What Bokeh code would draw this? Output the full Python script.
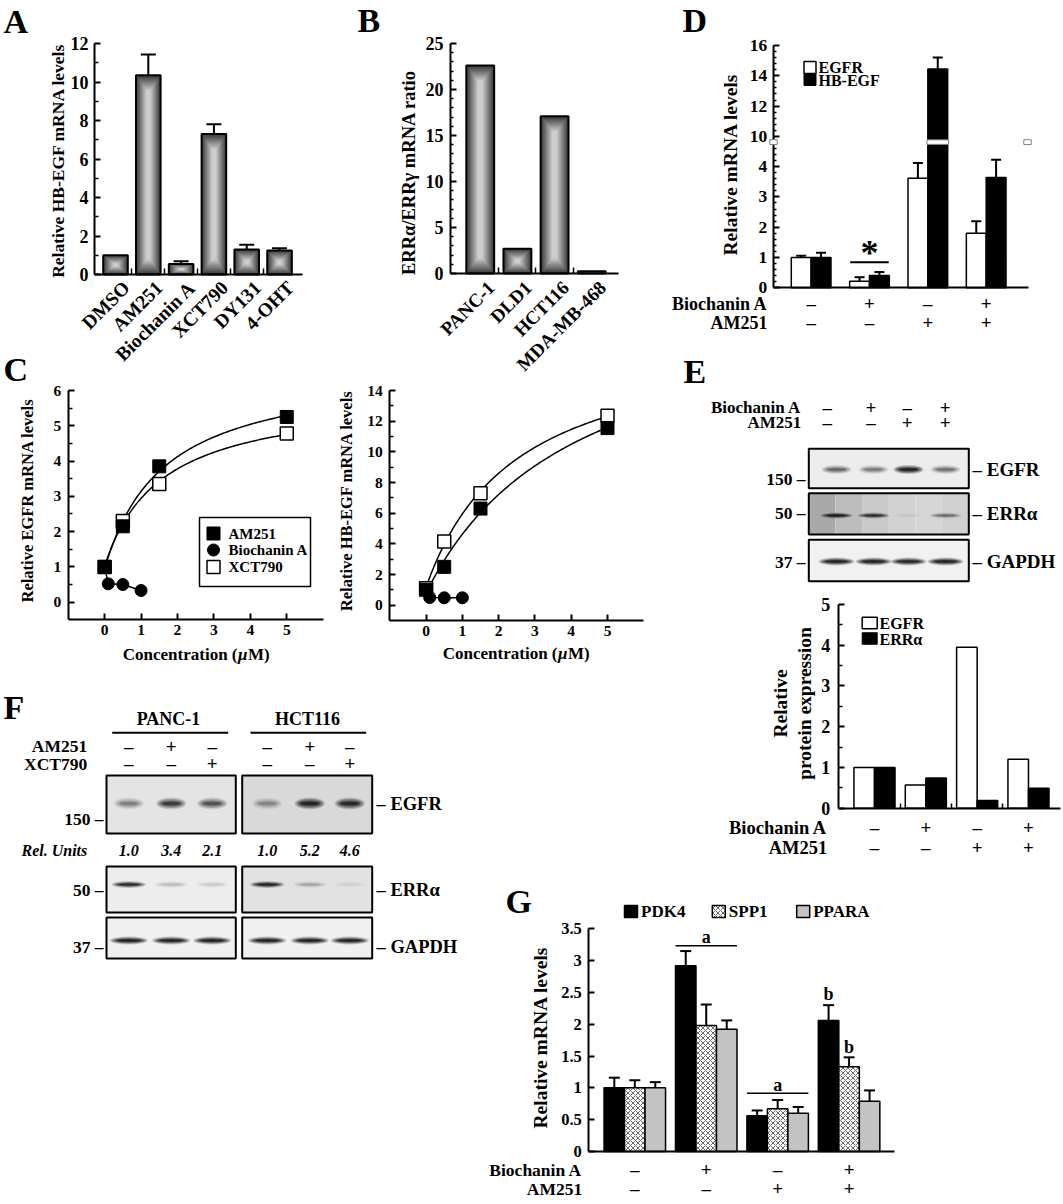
import numpy as np
from bokeh.plotting import figure
from bokeh.models import (Range1d, FixedTicker, Label, Whisker, TeeHead,
                          ColumnDataSource, BoxAnnotation, LinearAxis, Grid)
from bokeh.embed import file_html
from bokeh.resources import INLINE

FONT = "Liberation Serif"
PI = np.pi

# ================= data =================
a_cats = ["DMSO", "AM251", "Biochanin A", "XCT790", "DY131", "4-OHT"]
a_vals = [1.0, 10.35, 0.55, 7.3, 1.3, 1.25]
a_errs = [0.0, 1.08, 0.14, 0.5, 0.24, 0.12]

b_cats = ["PANC-1", "DLD1", "HCT116", "MDA-MB-468"]
b_vals = [22.6, 2.68, 17.1, 0.25]

c_conc = [0, 0.5, 1.5, 5]
c_bio_conc = [0, 0.1, 0.5, 1.0]
c1_am251 = [1.0, 2.15, 3.85, 5.25]
c1_xct790 = [1.0, 2.3, 3.35, 4.78]
c1_bio = [1.0, 0.52, 0.5, 0.33]
c2_am251 = [1.0, 2.5, 6.3, 11.55]
c2_xct790 = [1.1, 4.15, 7.3, 12.35]
c2_bio = [1.0, 0.5, 0.48, 0.48]
c_series = ["AM251", "Biochanin A", "XCT790"]

treat_bio = ["–", "+", "–", "+"]
treat_am = ["–", "–", "+", "+"]

d_series = ["EGFR", "HB-EGF"]
d_egfr = [1.0, 0.22, 3.62, 1.8]
d_egfr_err = [0.06, 0.13, 0.5, 0.4]
d_hbegf = [1.0, 0.41, 14.45, 3.64]
d_hbegf_err = [0.16, 0.11, 0.75, 0.59]

e_series = ["EGFR", "ERRα"]
e_egfr = [1.0, 0.57, 3.95, 1.2]
e_erra = [1.0, 0.74, 0.19, 0.49]
e_band_egfr = [0.5, 0.4, 1.0, 0.45]
e_band_erra = [0.95, 0.8, 0.04, 0.4]
e_band_gapdh = [1.0, 1.0, 0.95, 1.0]

f_lines = ["PANC-1", "HCT116"]
f_am = ["–", "+", "–"]
f_xct = ["–", "–", "+"]
f_rel = [[1.0, 3.4, 2.1], [1.0, 5.2, 4.6]]
f_band_egfr = [[0.35, 0.75, 0.6], [0.3, 0.95, 0.9]]
f_band_erra = [[0.9, 0.15, 0.1], [0.95, 0.2, 0.05]]
f_band_gapdh = [[1.0, 1.0, 1.0], [1.0, 1.0, 1.0]]

g_series = ["PDK4", "SPP1", "PPARA"]
g_pdk4 = [1.0, 2.92, 0.56, 2.06]
g_pdk4_err = [0.16, 0.23, 0.085, 0.24]
g_spp1 = [1.0, 1.98, 0.67, 1.33]
g_spp1_err = [0.12, 0.33, 0.14, 0.15]
g_ppara = [1.0, 1.92, 0.60, 0.79]
g_ppara_err = [0.09, 0.14, 0.10, 0.17]

# ================= canvas =================
W, H = 1063, 1204
p = figure(width=W, height=H, x_range=Range1d(0, W), y_range=Range1d(H, 0),
           output_backend="svg", toolbar_location=None, min_border=0,
           x_axis_location=None, y_axis_location=None)
p.outline_line_color = None
p.background_fill_color = "white"
p.border_fill_color = "white"
p.grid.visible = False
p.center = [r for r in p.center if not isinstance(r, Grid)]
XR, YR = {}, {}


class Chart:
    def __init__(self, name, frame, xr, yr):
        self.fx0, self.fy0, self.fx1, self.fy1 = frame
        self.xr, self.yr = xr, yr
        self.sx = (xr[1] - xr[0]) / (self.fx1 - self.fx0)
        self.sy = (yr[1] - yr[0]) / (self.fy1 - self.fy0)
        self.xn, self.yn = name + "_x", name + "_y"
        XR[self.xn] = Range1d(xr[0] - self.fx0 * self.sx,
                              xr[0] + (W - self.fx0) * self.sx)
        YR[self.yn] = Range1d(yr[0] - (H - self.fy1) * self.sy,
                              yr[0] + self.fy1 * self.sy)
        self.kw = dict(x_range_name=self.xn, y_range_name=self.yn)

    def X(self, px):
        return self.xr[0] + (px - self.fx0) * self.sx

    def Y(self, py):
        return self.yr[0] + (self.fy1 - py) * self.sy


def add_axis(ch, dim, size, ticks, minor=(), overrides=None, tin=6, minin=3,
             standoff=6, show_labels=True, bounds=None):
    if dim == "y":
        ax = LinearAxis(fixed_location=ch.xr[0], bounds=bounds or ch.yr, **ch.kw)
        side = "left"
    else:
        ax = LinearAxis(fixed_location=ch.yr[0], bounds=bounds or ch.xr, **ch.kw)
        side = "below"
    ax.ticker = FixedTicker(ticks=list(ticks), minor_ticks=list(minor))
    ax.axis_line_color = "black"
    ax.axis_line_width = 2
    ax.major_tick_line_color = "black"
    ax.major_tick_line_width = 2
    ax.major_tick_in = tin
    ax.major_tick_out = 0
    ax.minor_tick_line_color = "black"
    ax.minor_tick_line_width = 1.5
    ax.minor_tick_in = minin
    ax.minor_tick_out = 0
    ax.major_label_standoff = standoff
    ax.major_label_text_font = FONT
    ax.major_label_text_font_style = "bold"
    ax.major_label_text_font_size = f"{size}px"
    ax.major_label_text_color = "black" if show_labels else None
    if overrides:
        ax.major_label_overrides = overrides
    p.add_layout(ax, side)


def lab(x, y, text, size, align="center", baseline="middle", angle=0,
        style="bold", ch=None):
    kw = ch.kw if ch is not None else {}
    p.add_layout(Label(x=x, y=y, text=text, text_font=FONT,
                       text_font_size=f"{size}px", text_font_style=style,
                       text_align=align, text_baseline=baseline, angle=angle,
                       text_color="black", **kw))


def err(ch, xs, lo, hi, size=12, lw=2):
    src = ColumnDataSource(dict(x=list(xs), lo=list(lo), hi=list(hi)))
    p.add_layout(Whisker(source=src, base="x", lower="lo", upper="hi",
                         dimension="height", line_color="black", line_width=lw,
                         upper_head=TeeHead(size=size, line_color="black",
                                            line_width=lw),
                         lower_head=None, **ch.kw))


def grad_bars(ch, xs, tops, width, n=14):
    xs = list(xs)
    tops = np.asarray(tops, float)
    for k in range(n):
        fr = k / n
        c = int(round(58 + (205 - 58) * (k / (n - 1))))
        col = "#%02x%02x%02x" % (c, c, c)
        inset = np.minimum(tops * 0.45, 16 * ch.sy) * fr
        p.vbar(x=xs, width=width * (1 - 0.88 * fr), bottom=list(inset),
               top=list(tops - inset), fill_color=col, line_color=None, **ch.kw)
    p.vbar(x=xs, width=width, bottom=0, top=list(tops), fill_color=None,
           line_color="black", line_width=2, **ch.kw)


def fit_curve(xs, ys):
    xs = np.asarray(xs, float)
    ys = np.asarray(ys, float)
    best = None
    for K in np.linspace(0.05, 25, 1000):
        f = xs / (K + xs)
        A = np.vstack([np.ones_like(f), f]).T
        coef = np.linalg.lstsq(A, ys, rcond=None)[0]
        r = float(np.sum((A @ coef - ys) ** 2))
        if best is None or r < best[0]:
            best = (r, K, coef)
    _, K, (a, b) = best
    xx = np.linspace(0, xs.max(), 150)
    return xx, a + b * xx / (K + xx)


def bands(lanes, cy, inten, bw, bh):
    layers = [(1.0, 1.0, 0.2), (0.88, 0.75, 0.3), (0.74, 0.52, 0.42),
              (0.6, 0.3, 0.55)]
    for fw, fh, a in layers:
        p.ellipse(x=list(lanes), y=[cy] * len(lanes), width=bw * fw,
                  height=bh * fh, fill_color="black",
                  fill_alpha=[min(1.0, a * i) for i in inten], line_color=None)


def blot_box(x0, x1, y0, y1, bg):
    if isinstance(bg, str):
        bg = [bg]
    edges = np.linspace(x0, x1, len(bg) + 1)
    p.quad(left=list(edges[:-1]), right=list(edges[1:]), top=[y0] * len(bg),
           bottom=[y1] * len(bg), fill_color=bg, line_color=None)


def blot_outline(x0, x1, y0, y1):
    p.quad(left=[x0], right=[x1], top=[y0], bottom=[y1], fill_color=None,
           line_color="black", line_width=2)


# ================= A =================
cA = Chart("A", (94, 43, 302, 274), (-0.64, 5.70), (0, 12))
ia = list(range(len(a_cats)))
grad_bars(cA, ia, a_vals, 0.75)
ea = [i for i in ia if a_errs[i] > 0]
err(cA, ea, [a_vals[i] for i in ea], [a_vals[i] + a_errs[i] for i in ea], 15)
add_axis(cA, "y", 18, range(0, 13, 2), range(1, 12, 2), tin=6, minin=4,
         standoff=6)
add_axis(cA, "x", 10, [], [i + 0.5 for i in ia[:-1]], minin=6,
         show_labels=False)
for i, c in enumerate(a_cats):
    lab(i + 11 * cA.sx, cA.Y(284), c, 19.5, align="right", angle=PI / 4, ch=cA)
lab(57, 160, "Relative HB-EGF mRNA levels", 17.5, angle=PI / 2)
lab(3, 21, "A", 34, align="left")

# ================= B =================
cB = Chart("B", (450, 43, 618, 273), (-0.80, 3.72), (0, 25))
ib = list(range(len(b_cats)))
grad_bars(cB, ib, b_vals, 0.75)
add_axis(cB, "y", 18, range(0, 26, 5), [v for v in range(1, 25) if v % 5],
         tin=6, minin=3, standoff=7)
add_axis(cB, "x", 10, [], [i + 0.5 for i in ib[:-1]], minin=6,
         show_labels=False)
for i, c in enumerate(b_cats):
    lab(i + 11 * cB.sx, cB.Y(284), c, 19, align="right", angle=PI / 4, ch=cB)
lab(408, 172, "ERRα/ERRγ mRNA ratio", 18.5, angle=PI / 2)
lab(357, 20, "B", 34, align="left")


# ================= C =================
def conc_title(cx, cy):
    x0 = cx - 73
    lab(x0 + 115, cy, "Concentration (", 17, align="right")
    lab(x0 + 115.5, cy, "μ", 17, align="left", style="bold italic")
    lab(x0 + 125.5, cy, "M)", 17, align="left")


def c_panel(ch, am, xct, bio):
    for ys in (am, xct):
        xx, yy = fit_curve(c_conc, ys)
        p.line(xx, yy, line_color="black", line_width=1.5, **ch.kw)
    p.scatter(c_conc, xct, marker="square", size=13, fill_color="white",
              line_color="black", line_width=1.5, **ch.kw)
    p.scatter(c_conc, am, marker="square", size=13, fill_color="black",
              line_color="black", **ch.kw)
    p.line(c_bio_conc, bio, line_color="black", line_width=1.5, **ch.kw)
    p.scatter(c_bio_conc, bio, marker="circle", size=12, fill_color="black",
              line_color="black", **ch.kw)


cC1 = Chart("C1", (67.7, 390, 322.7, 619.3), (-1, 6), (-0.5, 6))
c_panel(cC1, c1_am251, c1_xct790, c1_bio)
add_axis(cC1, "y", 15.5, range(0, 7), [k + 0.5 for k in range(6)], tin=6,
         minin=4, standoff=7)
add_axis(cC1, "x", 15.5, range(0, 6), [], tin=6, standoff=5)
p.quad(left=[199], right=[310], top=[517], bottom=[586], fill_color="white",
       line_color="black", line_width=1.5)
leg_y = [533, 549.5, 566.5]
p.scatter([213], [leg_y[0]], marker="square", size=13, fill_color="black",
          line_color="black")
p.scatter([213], [leg_y[1]], marker="circle", size=12, fill_color="black",
          line_color="black")
p.scatter([213], [leg_y[2]], marker="square", size=13, fill_color="white",
          line_color="black", line_width=1.5)
for s, yy in zip(c_series, leg_y):
    lab(228, yy, s, 15, align="left")
lab(27, 500, "Relative EGFR mRNA levels", 16.5, angle=PI / 2)
conc_title(195, 654)
lab(3, 369, "C", 34, align="left")

cC2 = Chart("C2", (389.3, 390, 643.3, 620), (-1, 6), (-1, 14))
c_panel(cC2, c2_am251, c2_xct790, c2_bio)
add_axis(cC2, "y", 15.5, range(0, 15, 2), range(1, 14, 2), tin=6, minin=4,
         standoff=7)
add_axis(cC2, "x", 15.5, range(0, 6), [], tin=6, standoff=5)
lab(346, 500, "Relative HB-EGF mRNA levels", 16.5, angle=PI / 2)
conc_title(515, 653)

# ================= D =================
cD = Chart("D", (772.7, 45, 1027.7, 287.3), (-0.65, 3.72), (0, 8))


def tD(v):
    return v if v <= 5 else 5 + (v - 10) / 2


idd = np.arange(4)
bwd = 0.34
p.vbar(x=list(idd - bwd / 2), top=[tD(v) for v in d_egfr], width=bwd,
       fill_color="white", line_color="black", line_width=1.5, **cD.kw)
p.vbar(x=list(idd + bwd / 2), top=[tD(v) for v in d_hbegf], width=bwd,
       fill_color="black", line_color="black", line_width=1.5, **cD.kw)
err(cD, idd - bwd / 2, [tD(v) for v in d_egfr],
    [tD(v + e) for v, e in zip(d_egfr, d_egfr_err)], 10)
err(cD, idd + bwd / 2, [tD(v) for v in d_hbegf],
    [tD(v + e) for v, e in zip(d_hbegf, d_hbegf_err)], 10)
d_minor = [round(k * 0.2, 2) for k in range(41)
           if k % 5 and not (4.7 < k * 0.2 < 5.0)]
add_axis(cD, "y", 17.5, range(0, 9), d_minor,
         overrides={0: "0", 1: "1", 2: "2", 3: "3", 4: "4", 5: "10",
                    6: "12", 7: "14", 8: "16"},
         tin=6, minin=3, standoff=6)
add_axis(cD, "x", 10, [], [], show_labels=False)
brk = 4.81
p.rect(x=[2 + bwd / 2], y=[brk], width=bwd + 0.03, height=0.15,
       fill_color="white", line_color="#808080", line_width=1, **cD.kw)
for (l, r) in [(769.3, 776.7), (1023.3, 1030.7)]:
    p.add_layout(BoxAnnotation(left=l, right=r, bottom=cD.fy1 - (brk - 0.08) / cD.sy,
                               top=cD.fy1 - (brk + 0.08) / cD.sy,
                               fill_color="white", fill_alpha=1,
                               line_color="#808080", line_alpha=1,
                               line_width=1))
p.scatter([809.5], [67], marker="square", size=12, fill_color="white",
          line_color="black", line_width=1.5)
p.scatter([809.5], [79], marker="square", size=12, fill_color="black",
          line_color="black")
lab(818, 67, d_series[0], 16, align="left")
lab(818, 80, d_series[1], 16, align="left")
lab(1, cD.Y(252), "*", 36, ch=cD)
p.segment(x0=[1 - 0.33], x1=[1 + 0.33], y0=[0.84], y1=[0.84],
          line_color="black", line_width=2, **cD.kw)
lab(767, 303, "Biochanin A", 18, align="right")
lab(767, 322, "AM251", 18, align="right")
for i in range(4):
    lab(i, cD.Y(303), treat_bio[i], 19, ch=cD)
    lab(i, cD.Y(322), treat_am[i], 19, ch=cD)
lab(730, 164, "Relative mRNA levels", 19.5, angle=PI / 2)
lab(682, 20, "D", 34, align="left")

# ================= E (blots) =================
lab(683, 371, "E", 34, align="left")
e_sign_x = [826.7, 870.5, 906.7, 944.7]
e_lane_x = [836, 873, 908, 945]
lab(800.7, 406.7, "Biochanin A", 17, align="right")
lab(800.7, 421.7, "AM251", 17, align="right")
for i in range(4):
    lab(e_sign_x[i], 406.7, treat_bio[i], 19)
    lab(e_sign_x[i], 421.7, treat_am[i], 19)
ex0, ex1 = 808.3, 968.3
blot_box(ex0, ex1, 448.3, 487.7, "#ededed")
bands(e_lane_x, 469, e_band_egfr, 30, 9)
blot_outline(ex0, ex1, 448.3, 487.7)
blot_box(ex0, ex1, 492.7, 534,
         ["#a9a9a9", "#bdbdbd", "#c9c9c9", "#d2d2d2", "#d6d6d6", "#d0d0d0"])
bands(e_lane_x, 515, e_band_erra, 32, 6)
blot_outline(ex0, ex1, 492.7, 534)
blot_box(ex0, ex1, 539.3, 580.7, "#f1f1f1")
bands(e_lane_x, 561, e_band_gapdh, 36, 8)
blot_outline(ex0, ex1, 539.3, 580.7)
for t, yy in [("150 –", 478), ("50 –", 512), ("37 –", 561)]:
    lab(805, yy, t, 17.5, align="right")
for t, yy in [("– EGFR", 469), ("– ERRα", 513), ("– GAPDH", 561)]:
    lab(972, yy, t, 19, align="left")

# ================= E (bars) =================
cE = Chart("E", (837.7, 604, 1060, 807.7), (-0.707, 3.624), (0, 5))
ie = np.arange(4)
bwe = 0.40
p.vbar(x=list(ie - bwe / 2), top=e_egfr, width=bwe, fill_color="white",
       line_color="black", line_width=1.5, **cE.kw)
p.vbar(x=list(ie + bwe / 2), top=e_erra, width=bwe, fill_color="black",
       line_color="black", line_width=1.5, **cE.kw)
add_axis(cE, "y", 18, range(0, 6), [k + 0.5 for k in range(5)], tin=6,
         minin=4, standoff=8)
add_axis(cE, "x", 10, [], [0.5, 1.5, 2.5], minin=5, show_labels=False)
p.rect(x=[869.2], y=[622.5], width=15, height=11.5, fill_color="white",
       line_color="black", line_width=1.5)
p.rect(x=[869.2], y=[638], width=15, height=11.5, fill_color="black",
       line_color="black")
lab(879, 622.5, e_series[0], 16, align="left")
lab(879, 638.5, e_series[1], 16, align="left")
lab(780, 703, "Relative", 19.5, angle=PI / 2)
lab(804, 703, "protein expression", 19.5, angle=PI / 2)
lab(826.7, 827, "Biochanin A", 18.5, align="right")
lab(826.7, 847, "AM251", 18.5, align="right")
for i in range(4):
    lab(i, cE.Y(827), treat_bio[i], 19, ch=cE)
    lab(i, cE.Y(847), treat_am[i], 19, ch=cE)

# ================= F =================
f_lane_x = [[128.3, 170.7, 211.7], [266.7, 309.3, 349.3]]
f_box_x = [(106, 235.3), (241.7, 371.7)]
f_title_x = [168, 307]
f_line_x = [(111.7, 227.7), (250, 365.7)]
lab(3, 707, "F", 34, align="left")
lab(86.7, 745.7, "AM251", 17.5, align="right")
lab(86.7, 763.3, "XCT790", 17.5, align="right")
lab(21, 850, "Rel. Units", 16, align="left", style="bold italic")
for g in range(2):
    lab(f_title_x[g], 718, f_lines[g], 18)
    p.segment(x0=[f_line_x[g][0]], x1=[f_line_x[g][1]], y0=[732.3],
              y1=[732.3], line_color="black", line_width=2)
    for k in range(3):
        lab(f_lane_x[g][k], 745.7, f_am[k], 19)
        lab(f_lane_x[g][k], 763.3, f_xct[k], 19)
        lab(f_lane_x[g][k], 850, f"{f_rel[g][k]:.1f}", 16, style="bold italic")
    bx0, bx1 = f_box_x[g]
    blot_box(bx0, bx1, 775, 833, "#e4e4e4" if g == 0 else "#d9d9d9")
    bands(f_lane_x[g], 803, f_band_egfr[g], 30, 12)
    blot_outline(bx0, bx1, 775, 833)
    blot_box(bx0, bx1, 866, 912, "#ededed" if g == 0 else "#e2e2e2")
    bands(f_lane_x[g], 884, f_band_erra[g], 34, 7)
    blot_outline(bx0, bx1, 866, 912)
    blot_box(bx0, bx1, 917, 958, "#f0f0f0")
    bands(f_lane_x[g], 940, f_band_gapdh[g], 38, 8)
    blot_outline(bx0, bx1, 917, 958)
lab(103, 818, "150 –", 17.5, align="right")
lab(376, 803, "– EGFR", 18.5, align="left")
lab(103, 889, "50 –", 17.5, align="right")
lab(376, 889, "– ERRα", 18.5, align="left")
lab(103, 946, "37 –", 17.5, align="right")
lab(376, 946, "– GAPDH", 18.5, align="left")

# ================= G =================
cG = Chart("G", (588.3, 928.3, 894.3, 1151), (-0.644, 3.64), (0, 3.5))
ig = np.arange(4)
bwg = 0.287
g_vals = [g_pdk4, g_spp1, g_ppara]
g_errs = [g_pdk4_err, g_spp1_err, g_ppara_err]
g_style = [dict(fill_color="black"),
           dict(fill_color="white", hatch_pattern="diagonal_cross",
                hatch_color="#6a6a6a", hatch_scale=5, hatch_weight=1),
           dict(fill_color="#c3c3c3")]
for k in range(3):
    xs = list(ig + (k - 1) * bwg)
    p.vbar(x=xs, top=g_vals[k], width=bwg, line_color="black",
           line_width=1.5, **g_style[k], **cG.kw)
    err(cG, xs, g_vals[k], [v + e for v, e in zip(g_vals[k], g_errs[k])], 11)
add_axis(cG, "y", 16.5, [k * 0.5 for k in range(8)], [],
         overrides={0: "0", 0.5: "0.5", 1: "1", 1.5: "1.5", 2: "2",
                    2.5: "2.5", 3: "3", 3.5: "3.5"},
         tin=6, standoff=7)
add_axis(cG, "x", 10, [], [], show_labels=False)
leg_x = [630.5, 718.3, 802.7]
for k in range(3):
    p.rect(x=[leg_x[k]], y=[911], width=13, height=12, line_color="black",
           line_width=1.5, **g_style[k])
    lab(leg_x[k] + 10, 911, g_series[k], 17, align="left")
p.segment(x0=[1 - 0.43, 2 - 0.43], x1=[1 + 0.43, 2 + 0.43],
          y0=[3.235, 0.915], y1=[3.235, 0.915], line_color="black",
          line_width=1.5, **cG.kw)
lab(1, 3.37, "a", 18, ch=cG)
lab(2, 1.05, "a", 18, ch=cG)
lab(3 - bwg, 2.475, "b", 18, ch=cG)
lab(3, 1.637, "b", 18, ch=cG)
lab(540, 1037, "Relative mRNA levels", 19.5, angle=PI / 2)
lab(581.7, 1169, "Biochanin A", 17.5, align="right")
lab(581.7, 1188, "AM251", 17.5, align="right")
for i in range(4):
    lab(i, cG.Y(1169), treat_bio[i], 19, ch=cG)
    lab(i, cG.Y(1188), treat_am[i], 19, ch=cG)
lab(505, 901, "G", 34, align="left")

p.extra_x_ranges = XR
p.extra_y_ranges = YR

open("out.html", "w", encoding="utf-8").write(file_html(p, INLINE))
